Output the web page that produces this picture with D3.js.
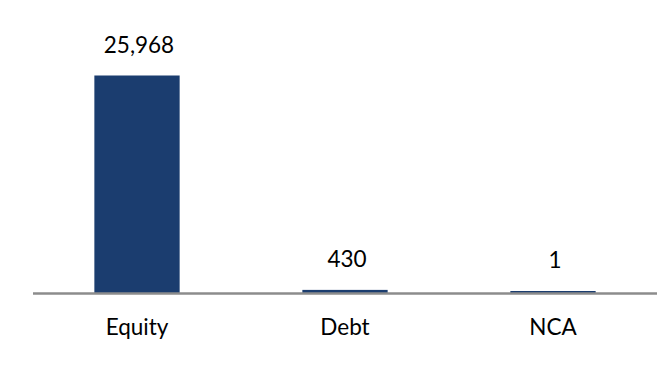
<!DOCTYPE html>
<html><head><meta charset="utf-8">
<script src="https://cdn.jsdelivr.net/npm/d3@7"></script>
<style>body{margin:0;background:#fff}svg{display:block}</style>
</head><body>
<svg id="c" width="666" height="381"></svg>
<script>
const categories = ["Equity", "Debt", "NCA"];
const values = [25968, 430, 1];

const svg = d3.select("#c");
const font = "Lato, 'Open Sans', sans-serif";
const fs = 22.5;
const x = d3.scaleBand().domain(categories).range([33, 657]).paddingInner(0.59).paddingOuter(0.295);
const y = d3.scaleLinear().domain([0, 25968]).range([293.5, 75.5]);
const minH = 2.5;

svg.selectAll("rect.bar").data(categories).join("rect")
  .attr("class", "bar")
  .attr("x", d => x(d))
  .attr("width", x.bandwidth())
  .attr("y", (d, i) => Math.min(y(values[i]), y(0) - minH))
  .attr("height", (d, i) => Math.max(y(0) - y(values[i]), minH))
  .attr("fill", "#1b3d6f");

const axis = svg.append("g").attr("transform", `translate(0,${y(0)})`)
  .call(d3.axisBottom(x).tickSize(0).tickPadding(26));
axis.select(".domain").attr("stroke", "#8c8c8c").attr("stroke-width", 2.5)
  .attr("d", "M33,0H657");
axis.selectAll("text").attr("font-family", font).attr("font-size", fs).attr("fill", "#000");

svg.selectAll("text.val").data(categories).join("text")
  .attr("class", "val")
  .attr("x", d => x(d) + x.bandwidth() / 2 + 2)
  .attr("y", (d, i) => Math.min(y(values[i]), y(0) - minH) - 23)
  .attr("text-anchor", "middle")
  .attr("font-family", font).attr("font-size", fs).attr("fill", "#000")
  .text((d, i) => d3.format(",")(values[i]));
</script>
</body></html>
